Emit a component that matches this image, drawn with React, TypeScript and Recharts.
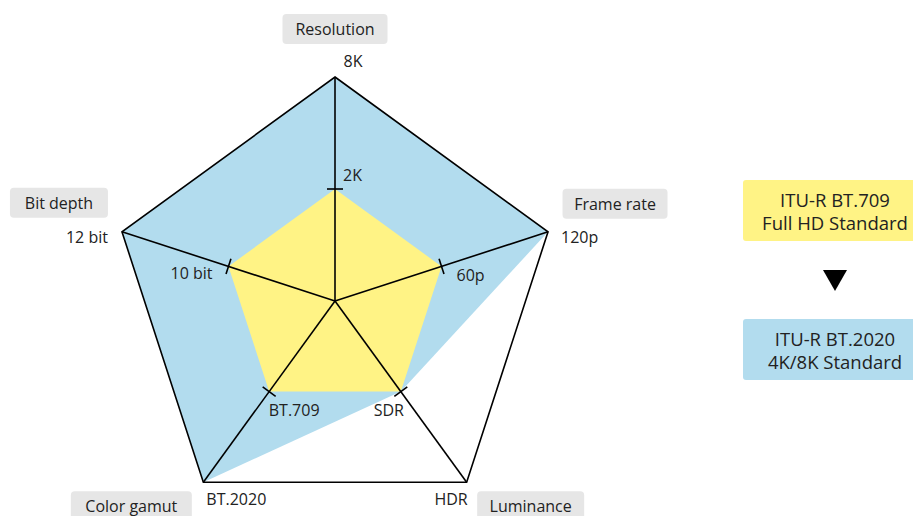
import React from 'react';
import { RadarChart, Radar, PolarAngleAxis, PolarRadiusAxis, Legend } from 'recharts';

const categories = ['Resolution', 'Frame rate', 'Luminance', 'Color gamut', 'Bit depth'];
const outerLabels = ['8K', '120p', 'HDR', 'BT.2020', '12 bit'];
const innerLabels = ['2K', '60p', 'SDR', 'BT.709', '10 bit'];
const bt2020Values = [1, 1, 0.5, 1, 1];
const bt709Values = [0.5, 0.5, 0.5, 0.5, 0.5];
const tickValues = [0.5, 0.5, 0.5, 0.5, 0.5];
const frameValues = [1, 1, 1, 1, 1];
const legendItems = [
  { lines: ['ITU-R BT.709', 'Full HD Standard'], color: '#fff385' },
  { lines: ['ITU-R BT.2020', '4K/8K Standard'], color: '#b2dcee' },
];

const data = categories.map((c, i) => ({
  axis: c,
  bt2020: bt2020Values[i],
  bt709: bt709Values[i],
  tick: tickValues[i],
  frame: frameValues[i],
}));

const CX = 335;
const CY = 301;
const R = 224;
const FONT = '"Open Sans", "Noto Sans", sans-serif';
const TEXT = '#222';
const FS = 16;

// label placement offsets relative to vertex / mid point
const LAYOUT = [
  { box: [0, -48], bw: 105, val: [18, -16, 'middle'], mid: [8, -14, 'start'] },
  { box: [67, -28], bw: 105, val: [13, 5, 'start'], mid: [15, 9, 'start'] },
  { box: [64, 24], bw: 107, val: [1, 17, 'end'], mid: [-12, 18, 'middle'] },
  { box: [-72, 24], bw: 121, val: [3, 17, 'start'], mid: [25, 18, 'middle'] },
  { box: [-63, -29], bw: 98, val: [-14, 5, 'end'], mid: [-37, 7, 'middle'] },
];

const AngleTick = (props: any) => {
  const { payload, index } = props;
  const cx = props.cx ?? CX;
  const cy = props.cy ?? CY;
  const radius = props.radius ?? R;
  const ang = (payload.coordinate * Math.PI) / 180;
  const vx = cx + radius * Math.cos(ang);
  const vy = cy - radius * Math.sin(ang);
  const mx = cx + (radius / 2) * Math.cos(ang);
  const my = cy - (radius / 2) * Math.sin(ang);
  const L = LAYOUT[index];
  const bx = vx + L.box[0];
  const by = vy + L.box[1];
  return (
    <g>
      <rect x={bx - L.bw / 2} y={by - 15} width={L.bw} height={30} rx={4} ry={4} fill="#e6e6e6" />
      <text x={bx} y={by} textAnchor="middle" dominantBaseline="central" fontSize={FS} fontFamily={FONT} fill={TEXT}>
        {payload.value}
      </text>
      <text x={vx + (L.val[0] as number)} y={vy + (L.val[1] as number)} textAnchor={L.val[2] as any} dominantBaseline="central" fontSize={FS} fontFamily={FONT} fill={TEXT}>
        {outerLabels[index]}
      </text>
      <text x={mx + (L.mid[0] as number)} y={my + (L.mid[1] as number)} textAnchor={L.mid[2] as any} dominantBaseline="central" fontSize={FS} fontFamily={FONT} fill={TEXT}>
        {innerLabels[index]}
      </text>
    </g>
  );
};

const TickMark = (props: any) => {
  const { cx: x, cy: y } = props;
  if (x == null || y == null) return null;
  const dx = x - CX;
  const dy = y - CY;
  const len = Math.hypot(dx, dy) || 1;
  const ux = -dy / len;
  const uy = dx / len;
  return (
    <line x1={x - ux * 8} y1={y - uy * 8} x2={x + ux * 8} y2={y + uy * 8} stroke="#000" strokeWidth={1.6} />
  );
};

const Spoke = (props: any) => {
  const { cx: x, cy: y } = props;
  if (x == null || y == null) return null;
  return <line x1={CX} y1={CY} x2={x} y2={y} stroke="#000" strokeWidth={1.6} />;
};

const LegendContent = () => (
  <div style={{ fontFamily: FONT, color: TEXT, fontSize: 18.5, width: 184 }}>
    {legendItems.map((it, i) => (
      <React.Fragment key={i}>
        <div
          style={{
            background: it.color,
            borderRadius: 3,
            height: 61,
            display: 'flex',
            flexDirection: 'column',
            justifyContent: 'center',
            alignItems: 'center',
            lineHeight: '23px',
          }}
        >
          {it.lines.map((l, j) => (
            <div key={j} style={{ whiteSpace: 'nowrap' }}>{l}</div>
          ))}
        </div>
        {i === 0 && (
          <div style={{ height: 78, display: 'flex', alignItems: 'center', justifyContent: 'center' }}>
            <svg width={26} height={22}>
              <polygon points="1,1 25,1 13,22" fill="#000" />
            </svg>
          </div>
        )}
      </React.Fragment>
    ))}
  </div>
);

export default function App() {
  return (
    <div style={{ position: 'absolute', left: 0, top: 0, width: 913, height: 516, overflow: 'hidden', background: '#fff' }}>
      <RadarChart width={913} height={516} data={data} cx={CX} cy={CY} outerRadius={R} startAngle={90} endAngle={-270}>
        <PolarRadiusAxis domain={[0, 1]} tick={false} axisLine={false} tickCount={2} />
        <Radar dataKey="bt2020" fill="#b2dcee" fillOpacity={1} stroke="none" isAnimationActive={false} />
        <Radar dataKey="bt709" fill="#fff385" fillOpacity={1} stroke="none" isAnimationActive={false} />
        <Radar dataKey="frame" fill="none" fillOpacity={0} stroke="#000" strokeWidth={1.6} strokeLinejoin="miter" dot={<Spoke />} isAnimationActive={false} />
        <Radar dataKey="tick" fill="none" fillOpacity={0} stroke="none" dot={<TickMark />} isAnimationActive={false} />
        <PolarAngleAxis dataKey="axis" axisLine={false} tickLine={false} tick={<AngleTick />} />
        <Legend content={<LegendContent />} wrapperStyle={{ position: 'absolute', left: 743, top: 180, width: 184 }} />
      </RadarChart>
    </div>
  );
}
